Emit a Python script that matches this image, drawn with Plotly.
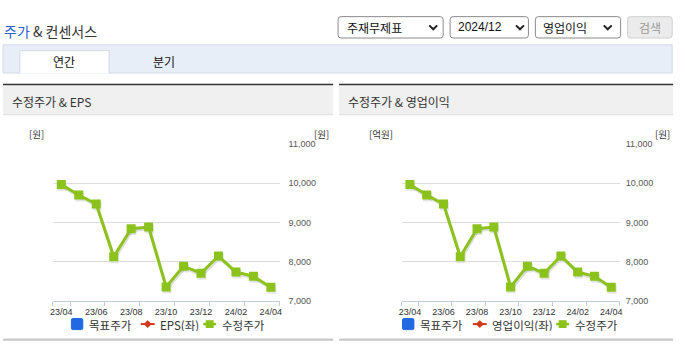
import plotly.graph_objects as go

# ---------------- data ----------------
months = ["23/04", "23/05", "23/06", "23/07", "23/08", "23/09", "23/10",
          "23/11", "23/12", "24/01", "24/02", "24/03", "24/04"]
adj_price = [9970, 9700, 9470, 8120, 8840, 8880, 7350, 7880, 7700, 8140, 7730, 7620, 7340]
y_ticks = [7000, 8000, 9000, 10000, 11000]
legend_left = ["목표주가", "EPS(좌)", "수정주가"]
legend_right = ["목표주가", "영업이익(좌)", "수정주가"]
panel_titles = ["수정주가 & EPS", "수정주가 & 영업이익"]
left_units = ["[원]", "[억원]"]
selects = ["주재무제표", "2024/12", "영업이익"]

# ---------------- helpers ----------------
W, H = 695, 349
KR = "Noto Sans CJK KR"
NUM = "Liberation Sans, Noto Sans CJK KR"
GREEN = "#8cc21c"


def px(x):
    return x / W


def py(y):
    return 1 - y / H


def rect(x0, y0, x1, y1, fill, line=None, lw=0, layer="below"):
    return dict(type="rect", xref="paper", yref="paper",
                x0=px(x0), x1=px(x1), y0=py(y1), y1=py(y0),
                fillcolor=fill, layer=layer, line=dict(width=lw, color=line or fill))


def path(points, close=False, fill=None, line="#333", lw=1):
    s = "M " + " L ".join(f"{px(x):.5f},{py(y):.5f}" for x, y in points)
    if close:
        s += " Z"
    return dict(type="path", xref="paper", yref="paper", path=s,
                fillcolor=fill if fill else "rgba(0,0,0,0)",
                line=dict(color=line, width=lw))


def rrect(x0, y0, x1, y1, r, fill, line, lw=1):
    s = (f"M {px(x0 + r)},{py(y0)} L {px(x1 - r)},{py(y0)} "
         f"Q {px(x1)},{py(y0)} {px(x1)},{py(y0 + r)} L {px(x1)},{py(y1 - r)} "
         f"Q {px(x1)},{py(y1)} {px(x1 - r)},{py(y1)} L {px(x0 + r)},{py(y1)} "
         f"Q {px(x0)},{py(y1)} {px(x0)},{py(y1 - r)} L {px(x0)},{py(y0 + r)} "
         f"Q {px(x0)},{py(y0)} {px(x0 + r)},{py(y0)} Z")
    return dict(type="path", xref="paper", yref="paper", path=s,
                fillcolor=fill, line=dict(color=line, width=lw))


def text(x, y, t, size=12, color="#333", anchor="left", family=KR, height=None):
    d = dict(x=px(x), y=py(y), xref="paper", yref="paper", text=t,
             showarrow=False, xanchor=anchor, yanchor="middle",
             font=dict(family=family, size=size, color=color))
    if height:
        d["height"] = height
    return d


shapes = []
annotations = []

# ---------------- page header ----------------
annotations.append(text(-1, 27, "<span style='color:#2a62d6'>주가</span> & 컨센서스", size=14, color="#333"))

sel_boxes = [(338, 12, 444, 34), (451, 12, 530, 34), (537, 12, 623, 34)]
chev_x = [434, 521.5, 610]
sel_text_x = [345, 457, 543]
for (x0, y0, x1, y1), cx, tx, label in zip(sel_boxes, chev_x, sel_text_x, selects):
    shapes.append(rrect(x0, y0, x1, y1, 3, "#ffffff", "#8a8a8a"))
    shapes.append(path([(cx - 4, 21), (cx, 25), (cx + 4, 21)], line="#222", lw=2))
    annotations.append(text(tx, 23, label, size=12, color="#111",
                            family=KR if not label[0].isdigit() else NUM))
shapes.append(rrect(630, 12, 675, 34, 3, "#ebebeb", "#cfcfcf"))
annotations.append(text(652.5, 23, "검색", size=12, color="#999", anchor="center"))

# tab bar
shapes.append(rect(0, 41, 675, 70, "#e8eef8", "#d3dae6", 1))
shapes.append(rect(17, 47, 107, 70.5, "#ffffff", "#ffffff", 0))
shapes.append(path([(17, 70), (17, 47), (107, 47), (107, 70)], line="#d3dae6", lw=1))
annotations.append(text(62, 58, "연간", size=12, color="#111", anchor="center"))
annotations.append(text(162, 58, "분기", size=12, color="#111", anchor="center"))

# ---------------- panels ----------------
panels = [(0, 333), (339, 676)]
for (x0, x1), title in zip(panels, panel_titles):
    shapes.append(rect(x0, 81, x1, 83, "#333333"))
    shapes.append(rect(x0, 83, x1, 113, "#f0f0f0"))
    shapes.append(rect(x0, 112.5, x1, 113.5, "#dcdcdc"))
    shapes.append(rect(x0, 343.3, x1, 345.7, "#c8c8c8"))
    annotations.append(text(x0 + 7, 99, title, size=12, color="#333"))

# units
annotations.append(text(34, 133, left_units[0], size=9.5, color="#333", anchor="center"))
annotations.append(text(321.5, 133, "[원]", size=9.5, color="#333", anchor="center"))
annotations.append(text(381.5, 133, left_units[1], size=9.5, color="#333", anchor="center"))
annotations.append(text(665, 133, "[원]", size=9.5, color="#333", anchor="center"))


# ---------------- legends (drawn as decorations) ----------------
def legend(x_sq, labels, x_txt):
    ly = 328.5
    shapes.append(rrect(x_sq, ly - 5.7, x_sq + 11.5, ly + 5.7, 1.5, "#2169e0", "#2169e0"))
    annotations.append(text(x_txt[0], ly + 0.5, labels[0], size=11.5, color="#333", height=12))
    rx = x_txt[1] - 17
    shapes.append(path([(rx, ly), (rx + 14, ly)], line="#d2381a", lw=2))
    shapes.append(path([(rx + 7, ly - 3.5), (rx + 10.5, ly), (rx + 7, ly + 3.5), (rx + 3.5, ly)],
                       close=True, fill="#d2381a", line="#d2381a", lw=1))
    annotations.append(text(x_txt[1], ly + 0.5, labels[1], size=11.5, color="#333", height=12))
    gx = x_txt[2] - 17
    shapes.append(path([(gx, ly), (gx + 13, ly)], line=GREEN, lw=2.5))
    shapes.append(rect(gx + 2.5, ly - 4, gx + 10.5, ly + 4, GREEN, layer="above"))
    annotations.append(text(x_txt[2], ly + 0.5, labels[2], size=11.5, color="#333", height=12))


legend(69, legend_left, [85, 156, 219])
legend(403, legend_right, [419, 491, 575])

# ---------------- charts ----------------
idx = list(range(len(months)))
charts = [(50, 279, 8), (402, 622, 5)]
y_top, y_bot = 143.3, 304.3

fig = go.Figure()
layout_axes = {}
# shadow subplots (ids 1,2), main subplots (ids 3,4)
for i, (x0, x1, stand) in enumerate(charts):
    sid = i + 1
    sx = "xaxis" if sid == 1 else f"xaxis{sid}"
    sy = "yaxis" if sid == 1 else f"yaxis{sid}"
    layout_axes[sx] = dict(domain=[px(x0 + 1), px(x1 + 1)], range=[-0.5, 12.5], visible=False,
                           anchor="y" if sid == 1 else f"y{sid}", fixedrange=True)
    layout_axes[sy] = dict(domain=[py(y_bot + 2), py(y_top + 2)], range=[7000, 11000], visible=False,
                           anchor="x" if sid == 1 else f"x{sid}", fixedrange=True)
    fig.add_trace(go.Scatter(x=idx, y=adj_price, mode="lines+markers",
                             line=dict(color="rgba(0,0,0,0.13)", width=3),
                             marker=dict(symbol="square", size=9, color="rgba(0,0,0,0.10)"),
                             xaxis="x" if sid == 1 else f"x{sid}",
                             yaxis="y" if sid == 1 else f"y{sid}",
                             hoverinfo="skip", showlegend=False))

for i, (x0, x1, stand) in enumerate(charts):
    mid = i + 3
    layout_axes[f"xaxis{mid}"] = dict(
        domain=[px(x0), px(x1)], range=[-0.5, 12.5], anchor=f"y{mid}",
        tickmode="array", tickvals=idx[::2], ticktext=months[::2], ticks="",
        ticklabelstandoff=3,
        showline=True, linecolor="#c3cedc", linewidth=1, showgrid=False, zeroline=False,
        tickfont=dict(family=NUM, size=9, color="#333"), fixedrange=True,
        minor=dict(tickmode="array", tickvals=[-0.5] + [k + 0.5 for k in idx[::2]],
                   ticks="outside", ticklen=4, tickcolor="#c3cedc", tickwidth=1, showgrid=False))
    layout_axes[f"yaxis{mid}"] = dict(
        domain=[py(y_bot), py(y_top)], range=[7000, 11000], anchor=f"x{mid}", side="right",
        tickmode="array", tickvals=y_ticks, tickformat=",", ticks="",
        ticklabelstandoff=stand,
        showgrid=True, gridcolor="#dddddd", gridwidth=1, zeroline=False, showline=False,
        tickfont=dict(family=NUM, size=9, color="#555"), fixedrange=True)
    fig.add_trace(go.Scatter(x=idx, y=adj_price, mode="lines+markers", name="수정주가",
                             line=dict(color=GREEN, width=3),
                             marker=dict(symbol="square", size=9, color=GREEN),
                             xaxis=f"x{mid}", yaxis=f"y{mid}", showlegend=False))

fig.update_layout(
    width=W, height=H, margin=dict(l=0, r=0, t=0, b=0),
    paper_bgcolor="#ffffff", plot_bgcolor="rgba(0,0,0,0)",
    showlegend=False, shapes=shapes, annotations=annotations,
    **layout_axes,
)

fig.write_html("out.html")
